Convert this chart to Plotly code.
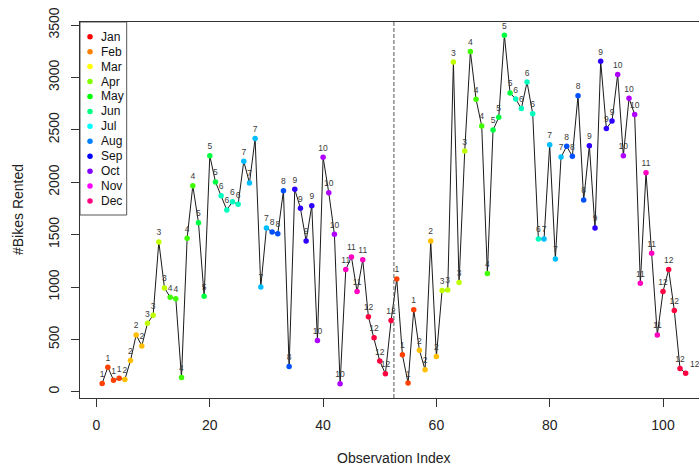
import plotly.graph_objects as go

# ---------------- data ----------------
obs_index = list(range(1, 105))
bikes_rented = [
    80, 235, 111, 130, 117, 298, 543, 438, 655, 731, 1430, 991, 903, 889, 137, 1465,
    1967, 1614, 912, 2252, 2003, 1871, 1735, 1814, 1789, 2200, 1993, 2416, 1001, 1563,
    1525, 1509, 1919, 241, 1932, 1751, 1439, 1776, 489, 2237, 1900, 1503, 76, 1166,
    1287, 956, 1259, 716, 515, 293, 172, 680,
    1077, 353, 83, 783, 397, 210, 1439, 337, 966, 972, 3146, 1042, 2297, 3248,
    2791, 2537, 1129, 2498, 2619, 3403, 2852, 2793, 2703, 2955, 2653, 1458, 1458, 2357,
    1268, 2240, 2342, 2247, 2825, 1830, 2348, 1563, 3155, 2513, 2583, 3028, 2253, 2800,
    2647, 1036, 2091, 1322, 543, 956, 1168, 775, 222, 178,
]
month_of_obs = [
    1, 1, 1, 1, 2, 2, 2, 2, 3, 3, 3, 3, 4, 4, 4, 4, 4, 5, 5, 5, 5, 6, 6, 6, 6,
    7, 7, 7, 7, 7, 8, 8, 8, 8, 9, 9, 9, 9, 10, 10, 10, 10, 10, 11, 11, 11, 11,
    12, 12, 12, 12, 12,
    1, 1, 1, 1, 2, 2, 2, 2, 3, 3, 3, 3, 3, 4, 4, 4, 4, 5, 5, 5, 5, 6, 6, 6, 6, 6,
    7, 7, 7, 7, 8, 8, 8, 8, 9, 9, 9, 9, 9, 10, 10, 10, 10, 11, 11, 11, 11,
    12, 12, 12, 12, 12,
]
month_names = ["Jan", "Feb", "Mar", "Apr", "May", "Jun",
               "Jul", "Aug", "Sep", "Oct", "Nov", "Dec"]
year_split = 52.5
y_ticks = [0, 500, 1000, 1500, 2000, 2500, 3000, 3500]
x_ticks = [0, 20, 40, 60, 80, 100]

# ---------------- styles ----------------
legend_colors = ["#FF0000", "#FF8000", "#FFFF00", "#80FF00", "#00FF00", "#00FF80",
                 "#00FFFF", "#0080FF", "#0000FF", "#8000FF", "#FF00FF", "#FF0080"]
point_colors_by_month = ["#FF4000", "#FFBF00", "#BFFF00", "#40FF00", "#00FF40", "#00FFBF",
                         "#00BFFF", "#0050FF", "#3000FF", "#B000FF", "#FF00C0", "#FF0040"]
FONT = "Liberation Sans, Arial, sans-serif"

W, H = 699, 470
L, R, T, B = 80, 0, 22, 72
PW, PH = W - L - R, H - T - B

pt_colors = [point_colors_by_month[m - 1] for m in month_of_obs]
text_pos = ["top center"] * (len(obs_index) - 1) + ["top right"]

fig = go.Figure()

# connecting line
fig.add_trace(go.Scatter(
    x=obs_index, y=bikes_rented, mode="lines",
    line=dict(color="#1a1a1a", width=1), hoverinfo="skip", showlegend=False,
))
# points with month labels
fig.add_trace(go.Scatter(
    x=obs_index, y=bikes_rented, mode="markers+text",
    marker=dict(color=pt_colors, size=5.5),
    text=[str(m) for m in month_of_obs], textposition=text_pos,
    textfont=dict(family=FONT, size=8.5, color="#3a3a3a"),
    showlegend=False,
))

# dashed year separator
fig.add_shape(type="line", xref="x", yref="paper", x0=year_split, x1=year_split,
              y0=0, y1=1, line=dict(color="#555555", width=1, dash="4px,2px"))

# ---------------- manual legend (pixel overlay axes) ----------------
leg_x_marker = 10
leg_x_text = 19
leg_y0 = 14.7
leg_dy = 14.94
leg_w, leg_h = 46.7, 193
fig.add_shape(type="rect", xref="x2", yref="y2", x0=0, x1=leg_w, y0=0, y1=leg_h,
              line=dict(color="#555555", width=1), fillcolor="rgba(0,0,0,0)",
              layer="above")
fig.add_trace(go.Scatter(
    x=[leg_x_marker] * 12, y=[leg_y0 + k * leg_dy for k in range(12)],
    xaxis="x2", yaxis="y2", mode="markers",
    marker=dict(color=legend_colors, size=5.5), hoverinfo="skip", showlegend=False,
))
for k, name in enumerate(month_names):
    fig.add_annotation(x=leg_x_text, y=leg_y0 + k * leg_dy, xref="x2", yref="y2",
                       text=name, showarrow=False, xanchor="left", yanchor="middle",
                       font=dict(family=FONT, size=12, color="#111111"))

# axis titles
fig.add_annotation(x=(394 - L) / PW, y=(T + PH - 458) / PH, xref="paper", yref="paper",
                   text="Observation Index", showarrow=False, xanchor="center",
                   yanchor="middle", font=dict(family=FONT, size=14, color="#222222"))
fig.add_annotation(x=(18 - L) / PW, y=0.5, xref="paper", yref="paper",
                   text="#Bikes Rented", showarrow=False, textangle=-90,
                   xanchor="center", yanchor="middle",
                   font=dict(family=FONT, size=14, color="#222222"))

x_range = [(80 - 96.5) / 5.665, (699 - 96.5) / 5.665]
y_range = [(391.8 - 398) / 0.1048, (391.8 - 22) / 0.1048]

fig.update_layout(
    width=W, height=H, margin=dict(l=L, r=R, t=T, b=B),
    paper_bgcolor="white", plot_bgcolor="white",
    font=dict(family=FONT, size=14, color="#222222"),
    showlegend=False,
    xaxis=dict(range=x_range, tickvals=x_ticks, ticks="outside", ticklen=8,
               tickcolor="#333333", showgrid=False, zeroline=False,
               showline=True, linecolor="#333333", linewidth=1, mirror=True,
               tickfont=dict(family=FONT, size=14, color="#222222"),
               ticklabelstandoff=6),
    yaxis=dict(range=y_range, tickvals=y_ticks, ticks="outside", ticklen=8,
               tickcolor="#333333", showgrid=False, zeroline=False,
               showline=True, linecolor="#333333", linewidth=1, mirror=False,
               tickangle=-90,
               tickfont=dict(family=FONT, size=14, color="#222222"),
               ticklabelstandoff=6),
    xaxis2=dict(range=[0, PW], overlaying="x", visible=False, fixedrange=True),
    yaxis2=dict(range=[PH, 0], overlaying="y", visible=False, fixedrange=True),
)

fig.write_html("out.html")
